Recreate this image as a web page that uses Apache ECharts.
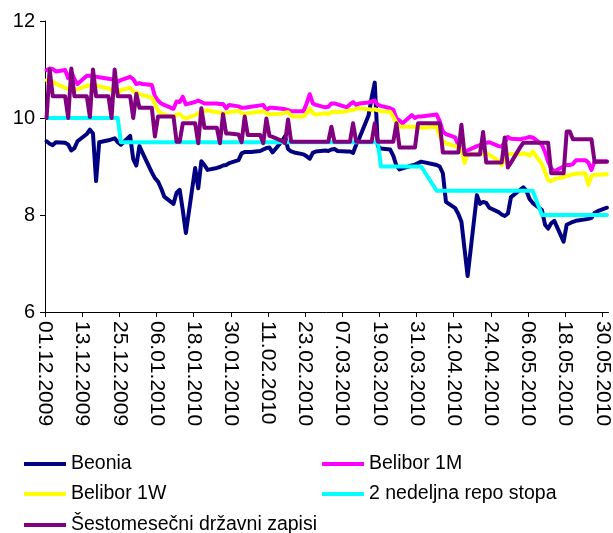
<!DOCTYPE html>
<html>
<head>
<meta charset="utf-8">
<script src="https://cdn.jsdelivr.net/npm/echarts@6/dist/echarts.min.js"></script>
<style>
html,body{margin:0;padding:0;background:#fff;}
#chart{width:613px;height:533px;}
</style>
</head>
<body>
<div id="chart"></div>
<script>
// ---- data ----
// x axis: calendar days from 01.12.2009; data on business days (weekends and Apr 2 / Apr 5 holidays absent)
const startDateUTC = Date.UTC(2009, 11, 1);
const lastDataDay = 181;         // 31.05.2010
const axisEndDay = 182;
const holidays = ['02.04.2010', '05.04.2010'];

const tickLabels = ['01.12.2009','13.12.2009','25.12.2009','06.01.2010','18.01.2010','30.01.2010',
  '11.02.2010','23.02.2010','07.03.2010','19.03.2010','31.03.2010','12.04.2010','24.04.2010',
  '06.05.2010','18.05.2010','30.05.2010'];
const tickStep = 12;

const seriesNames = ['Beonia', 'Belibor 1M', 'Belibor 1W', '2 nedeljna repo stopa', 'Šestomesečni državni zapisi'];

const beonia = [
  9.52, 9.47, 9.44, 9.50, 9.49, 9.45, 9.33, 9.38, 9.52, 9.67, 9.76, 9.68, 8.70, 9.50, 9.54, 9.56, 9.58, 9.50, 9.45, 9.63, 9.15, 9.02, 9.42,
  9.28, 8.88, 8.76, 8.69, 8.55, 8.38, 8.23, 8.46, 8.52, 8.10, 7.63, 8.97, 8.55, 9.11, 9.03, 8.93, 8.97, 8.99, 9.02, 9.03, 9.07,
  9.13, 9.27, 9.30, 9.30, 9.30, 9.32, 9.35, 9.38, 9.39, 9.29, 9.52, 9.62, 9.36, 9.31, 9.29, 9.25, 9.21, 9.16, 9.28, 9.31,
  9.33, 9.32, 9.35, 9.36, 9.32, 9.31, 9.31, 9.28, 9.45, 9.58, 10.05, 10.42, 10.73, 9.42, 9.37, 9.35, 9.22, 9.02, 8.94, 8.96, 9.02, 9.04, 9.07,
  9.10, 9.03, 9.00, 8.86, 8.27, 8.14, 8.02, 7.86, 7.30, 6.74, 8.41, 8.23, 8.27, 8.25, 8.15, 8.06, 8.01, 7.98, 8.03, 8.37,
  8.52, 8.57, 8.50, 8.33, 8.25, 8.10, 7.80, 7.72, 7.83, 7.88, 7.45, 7.80, 7.83, 7.86, 7.88, 7.91, 7.92, 7.94, 8.04, 8.08, 8.15
];
const belibor1M = [
  10.99, 11.02, 11.01, 10.96, 10.99, 10.82, 10.96, 10.80, 10.70, 10.87, 10.87, 10.86, 10.85, 10.84, 10.81, 10.80, 10.77, 10.75, 10.78, 10.85, 10.80, 10.70, 10.72,
  10.70, 10.68, 10.45, 10.36, 10.30, 10.27, 10.19, 10.34, 10.33, 10.44, 10.28, 10.33, 10.36, 10.33, 10.30, 10.30, 10.30, 10.29, 10.29, 10.20, 10.27,
  10.24, 10.21, 10.21, 10.22, 10.23, 10.26, 10.27, 10.16, 10.21, 10.21, 10.19, 10.18, 10.16, 10.14, 10.14, 10.14, 10.30, 10.49, 10.30, 10.27,
  10.22, 10.23, 10.30, 10.30, 10.28, 10.22, 10.28, 10.33, 10.27, 10.30, 10.32, 10.34, 10.36, 10.27, 10.25, 10.20, 10.17, 9.99, 9.95, 9.89, 10.06, 10.00, 10.03,
  10.03, 10.07, 9.93, 9.72, 9.67, 9.60, 9.44, 9.38, 9.31, 9.33, 9.42, 9.44, 9.46, 9.49, 9.50, 9.42, 9.41, 9.50, 9.61, 9.57,
  9.56, 9.58, 9.59, 9.61, 9.60, 9.45, 9.30, 9.10, 8.96, 8.90, 9.00, 9.03, 9.03, 9.05, 9.13, 9.13, 9.08, 8.93, 9.10, 9.11, 9.11
];
const belibor1W = [
  10.78, 10.77, 10.75, 10.71, 10.62, 10.60, 10.58, 10.58, 10.59, 10.66, 10.68, 10.68, 10.67, 10.65, 10.61, 10.58, 10.55, 10.50, 10.58, 10.62, 10.55, 10.52, 10.50,
  10.47, 10.42, 10.30, 10.15, 10.10, 10.07, 10.02, 10.07, 10.08, 10.02, 9.99, 10.06, 10.10, 10.12, 10.14, 10.16, 10.12, 10.11, 10.10, 10.10, 10.12,
  10.15, 10.10, 10.09, 10.10, 10.11, 10.13, 10.14, 10.10, 10.07, 10.08, 10.09, 10.11, 10.12, 10.05, 10.03, 10.03, 10.10, 10.20, 10.10, 10.07,
  10.10, 10.08, 10.12, 10.13, 10.12, 10.14, 10.16, 10.17, 10.19, 10.20, 10.18, 10.17, 10.18, 10.16, 10.14, 10.13, 10.02, 9.90, 9.82, 9.82, 9.82, 9.82, 9.80,
  9.80, 9.82, 9.62, 9.52, 9.48, 9.42, 9.40, 9.37, 9.07, 9.25, 9.27, 9.27, 9.26, 9.27, 9.24, 9.12, 9.03, 9.20, 9.25, 9.26,
  9.25, 9.27, 9.26, 9.22, 9.31, 9.05, 8.88, 8.72, 8.70, 8.74, 8.78, 8.81, 8.82, 8.84, 8.85, 8.86, 8.62, 8.80, 8.83, 8.83, 8.84
];
const repo2W = [
  10, 10, 10, 10, 10, 10, 10, 10, 10, 10, 10, 10, 10, 10, 10, 10, 10, 10, 9.5, 9.5, 9.5, 9.5, 9.5,
  9.5, 9.5, 9.5, 9.5, 9.5, 9.5, 9.5, 9.5, 9.5, 9.5, 9.5, 9.5, 9.5, 9.5, 9.5, 9.5, 9.5, 9.5, 9.5, 9.5, 9.5,
  9.5, 9.5, 9.5, 9.5, 9.5, 9.5, 9.5, 9.5, 9.5, 9.5, 9.5, 9.5, 9.5, 9.5, 9.5, 9.5, 9.5, 9.5, 9.5, 9.5,
  9.5, 9.5, 9.5, 9.5, 9.5, 9.5, 9.5, 9.5, 9.5, 9.5, 9.5, 9.5, 9.5, 9.5, 9.0, 9.0, 9.0, 9.0, 9.0, 9.0, 9.0, 9.0, 9.0,
  9.0, 8.5, 8.5, 8.5, 8.5, 8.5, 8.5, 8.5, 8.5, 8.5, 8.5, 8.5, 8.5, 8.5, 8.5, 8.5, 8.5, 8.5, 8.5, 8.5,
  8.5, 8.5, 8.5, 8.5, 8.5, 8.0, 8.0, 8.0, 8.0, 8.0, 8.0, 8.0, 8.0, 8.0, 8.0, 8.0, 8.0, 8.0, 8.0, 8.0, 8.0
];
const tbills6M = [
  10.00, 11.00, 10.45, 10.45, 10.45, 10.00, 11.02, 10.45, 10.45, 10.45, 10.02, 11.00, 10.45, 10.45, 10.45, 10.00, 11.00, 10.45, 10.45, 10.45, 10.00, 10.50, 10.21,
  10.21, 10.21, 9.62, 10.03, 10.03, 10.03, 10.03, 9.51, 9.51, 9.89, 9.89, 9.89, 9.48, 10.20, 9.80, 9.80, 9.80, 9.48, 10.08, 9.68, 9.68,
  9.66, 9.50, 10.03, 9.65, 9.65, 9.65, 9.48, 9.99, 9.63, 9.61, 9.53, 9.48, 9.97, 9.51, 9.51, 9.51, 9.51, 9.51, 9.51, 9.51,
  9.51, 9.51, 9.82, 9.51, 9.51, 9.51, 9.51, 9.89, 9.51, 9.51, 9.51, 9.51, 9.89, 9.51, 9.51, 9.51, 9.51, 9.89, 9.39, 9.39, 9.39, 9.39, 9.89,
  9.89, 9.89, 9.89, 9.29, 9.29, 9.29, 9.29, 9.86, 9.25, 9.25, 9.25, 9.25, 9.71, 9.08, 9.08, 9.08, 9.08, 9.60, 8.98, 9.08,
  9.40, 9.49, 9.49, 9.49, 9.49, 9.49, 9.49, 9.49, 8.86, 8.86, 8.86, 9.72, 9.72, 9.56, 9.56, 9.56, 9.56, 9.56, 9.10, 9.10, 9.10
];

const seriesColors = ['#000080', '#FF00FF', '#FFFF00', '#00FFFF', '#800080'];

// ---- build business-day positions ----
function fmtDay(d) {
  const dt = new Date(startDateUTC + d * 86400000);
  const dd = String(dt.getUTCDate()).padStart(2, '0');
  const mm = String(dt.getUTCMonth() + 1).padStart(2, '0');
  return dd + '.' + mm + '.' + dt.getUTCFullYear();
}
const dayIdx = [];
for (let d = 0; d <= lastDataDay; d++) {
  const wd = new Date(startDateUTC + d * 86400000).getUTCDay();
  if (wd === 0 || wd === 6) continue;
  if (holidays.indexOf(fmtDay(d)) >= 0) continue;
  dayIdx.push(d);
}
function toPoints(values) {
  return values.map((v, i) => [dayIdx[i] + 0.5, v]);
}
const tickPositions = tickLabels.map((_, i) => i * tickStep);

const allValues = [beonia, belibor1M, belibor1W, repo2W, tbills6M];
const FONT = 'Liberation Sans, Arial, sans-serif';

const chart = echarts.init(document.getElementById('chart'), null, {renderer: 'canvas'});

const legendPos = [
  {left: 24, top: 454}, {left: 322, top: 454},
  {left: 24, top: 484}, {left: 322, top: 484},
  {left: 24, top: 515}
];

chart.setOption({
  animation: false,
  backgroundColor: '#fff',
  grid: {left: 45, right: 4.5, top: 21, bottom: 221, containLabel: false},
  legend: seriesNames.map((n, i) => ({
    data: [n],
    left: legendPos[i].left,
    top: legendPos[i].top,
    padding: 0,
    icon: 'rect',
    itemWidth: 42,
    itemHeight: 4,
    itemGap: 0,
    textStyle: {fontFamily: FONT, fontSize: 19.5, color: '#000', lineHeight: 20, padding: [0, 0, 0, 0]},
    selectedMode: false
  })),
  xAxis: {
    type: 'value',
    min: 0,
    max: axisEndDay,
    interval: tickStep,
    axisLine: {show: true, lineStyle: {color: '#000', width: 1}},
    axisTick: {show: true, length: 5, customValues: tickPositions, lineStyle: {color: '#000'}},
    axisLabel: {
      customValues: tickPositions,
      rotate: -90,
      margin: 9,
      fontFamily: FONT,
      fontSize: 21,
      color: '#000',
      formatter: v => tickLabels[Math.round(v / tickStep)] || ''
    },
    splitLine: {show: false}
  },
  yAxis: {
    type: 'value',
    min: 6,
    max: 12,
    interval: 2,
    axisLine: {show: true, lineStyle: {color: '#000', width: 1}},
    axisTick: {show: true, length: 5, lineStyle: {color: '#000'}},
    axisLabel: {margin: 10, fontFamily: FONT, fontSize: 20, color: '#000'},
    splitLine: {show: false}
  },
  series: seriesNames.map((n, i) => ({
    name: n,
    type: 'line',
    data: toPoints(allValues[i]),
    symbol: 'none',
    showSymbol: false,
    connectNulls: true,
    color: seriesColors[i],
    lineStyle: {color: seriesColors[i], width: 4, cap: 'round', join: 'round'},
    emphasis: {disabled: true}
  }))
});
</script>
</body>
</html>
